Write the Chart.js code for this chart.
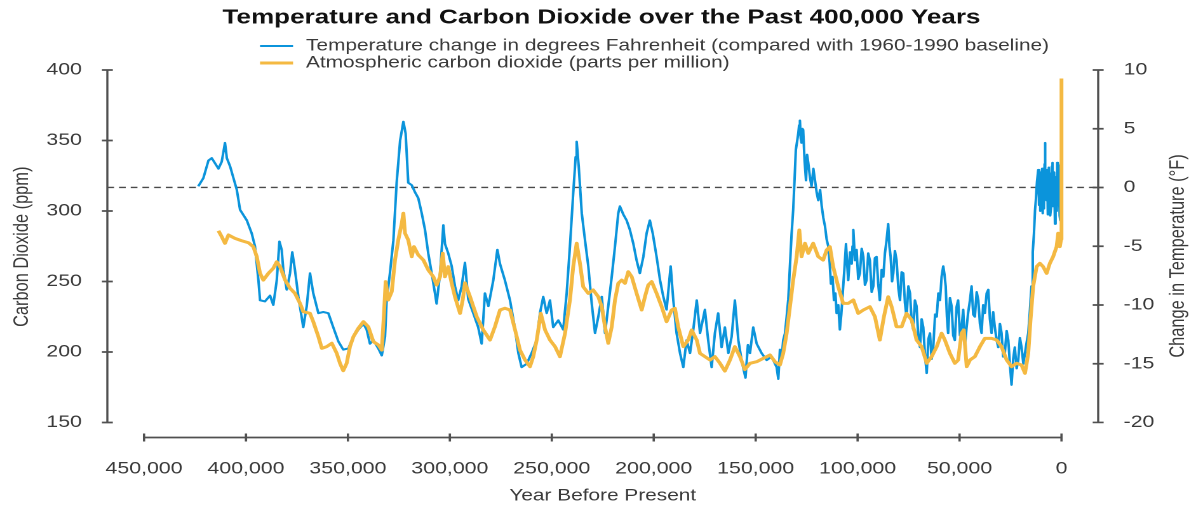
<!DOCTYPE html>
<html>
<head>
<meta charset="utf-8">
<title>Temperature and Carbon Dioxide over the Past 400,000 Years</title>
<script src="https://cdn.jsdelivr.net/npm/chart.js@4.4.1/dist/chart.umd.min.js"></script>
<style>
  html, body { margin: 0; padding: 0; background: #fff; overflow: hidden; }
  /* the figure is laid out on a narrower canvas and widened horizontally */
  #wrap { width: 947px; height: 508px; transform: scaleX(1.2703); transform-origin: 0 0; }
</style>
</head>
<body>
<div id="wrap"><canvas id="c" width="947" height="508"></canvas></div>
<script>
// ---- data: years before present and values ----
const tempYears = [
  423400,420900,418400,416800,413500,411900,410300,409400,407800,404500,402900,399600,397200,395600,393900,393100,
  390700,388200,386600,384900,383600,382500,381700,380000,378400,377300,376000,374300,371900,370200,368600,367000,
  364500,362100,359600,357200,354700,352300,349800,347300,344900,342400,340800,339200,337500,335100,333400,331800,
  331000,329400,327700,326100,324400,322800,321700,320400,318700,317100,315500,313800,312200,310600,308900,307300,
  306500,304800,303200,302400,300800,299100,297500,295900,294200,292600,291000,288500,286100,284400,282800,281100,
  278700,276700,275400,273000,270500,268000,266400,264800,262300,259900,257400,255800,254200,252500,250900,249300,
  246800,244400,242700,241100,239500,238300,237800,236800,235300,233700,232100,230400,228800,227200,225500,223900,
  222300,220600,219000,217400,216600,214900,213300,211700,210000,208400,206800,205100,203500,201900,200500,198600,
  196900,195300,193700,191700,190400,188800,187100,185500,183900,182200,180600,178900,177300,174900,173300,171600,
  170000,168400,166700,165100,163400,161800,160200,158500,156900,155000,153800,152800,151200,149500,147100,144600,
  142200,139700,138900,
  138100,137300,136500,135600,134800,134000,133200,132400,131600,130900,130300,129700,129100,128700,128300,127900,
  127500,127100,126700,126000,125300,124800,124200,123400,122600,121700,120900,120100,119300,118400,117600,116800,
  116000,115200,114400,113700,113100,112300,111600,110900,110300,109500,108700,108000,107300,106500,105700,105100,
  104600,103700,102900,102500,102100,101300,100500,99700,98900,98000,97200,96400,95600,94800,94000,93100,
  92300,91500,90700,89900,89100,88200,87400,86600,85800,85000,84400,83800,83100,82500,81700,80900,
  80000,79200,78400,77600,76800,76000,75100,74300,73500,72700,71900,71100,70200,69400,68600,67800,
  66900,66100,65300,64500,63700,62900,62000,61200,60400,59600,58800,58000,57400,56800,56200,55600,
  54700,53900,53100,52300,51500,50700,49800,49000,48200,47400,46600,45800,44900,44100,43300,42500,
  41600,40800,40000,39200,38400,37600,36700,35900,35100,34300,33500,32700,31800,31000,30200,29400,
  28600,27800,26900,26100,25300,24500,23700,22900,22000,21200,20400,19600,18700,17900,17100,16300,
  15500,14700,14100,13500,13000,12600,12000,11400,11000,10700,10400,10100,9800,9500,9200,9000,
  8600,8300,8100,7900,7600,7300,7000,6700,6500,6200,5900,5700,5400,5000,4700,4400,
  4100,3800,3500,3200,2900,2600,2300,2100,1800,1600,1400,1100,900,700,500,300,
  100
];
const tempValues = [
  0.1,0.8,2.3,2.5,1.6,2.2,3.8,2.5,1.8,-0.2,-1.9,-2.8,-3.9,-5.0,-7.9,-9.6,
  -9.7,-9.2,-10.0,-7.9,-4.6,-5.3,-7.0,-8.7,-7.3,-5.5,-7.0,-9.3,-11.9,-10.1,-7.3,-9.0,
  -10.7,-10.6,-10.7,-11.9,-13.1,-13.8,-13.7,-12.7,-12.1,-11.6,-12.1,-13.3,-13.0,-13.7,-14.3,-12.7,
  -9.6,-7.3,-4.5,0.4,4.0,5.6,4.6,0.4,0.2,-0.4,-0.9,-2.2,-3.6,-5.6,-7.3,-9.0,
  -9.9,-7.3,-3.2,-4.8,-5.6,-6.7,-8.4,-9.6,-8.4,-6.4,-9.5,-10.7,-11.9,-13.3,-9.0,-10.1,
  -7.9,-5.3,-6.5,-7.9,-9.6,-12.1,-14.1,-15.3,-15.0,-14.1,-13.0,-10.7,-9.3,-10.7,-9.6,-11.9,
  -11.3,-12.1,-9.0,-5.0,-0.5,2.6,3.9,1.8,-2.2,-4.5,-6.7,-9.9,-12.4,-11.0,-9.3,-12.4,
  -10.1,-7.6,-5.0,-2.2,-1.6,-2.3,-2.8,-3.6,-4.8,-6.2,-7.3,-5.9,-3.9,-2.8,-3.9,-5.9,
  -7.9,-9.3,-10.4,-6.7,-9.6,-12.4,-14.1,-15.3,-13.0,-14.1,-12.1,-9.6,-12.4,-10.4,-13.0,-15.3,
  -12.4,-10.7,-13.6,-11.9,-14.1,-12.7,-9.6,-13.0,-14.7,-16.2,-13.4,-14.1,-11.9,-13.3,-14.1,-14.7,
  -14.4,-15.3,-16.3,
  -13.8,-14.6,-13.0,-12.4,-11.0,-9.5,-6.7,-4.0,-1.9,0.8,3.2,3.9,4.6,5.3,5.7,4.2,
  3.8,5.0,4.9,2.2,0.6,2.8,2.1,0.9,0.1,1.6,0.6,-0.4,-1.1,-0.2,-1.6,-2.6,
  -3.3,-4.4,-5.0,-6.4,-8.2,-7.6,-9.6,-9.0,-10.7,-10.0,-12.1,-10.8,-9.0,-7.0,-4.8,-6.6,
  -7.9,-5.5,-6.5,-5.0,-3.6,-6.2,-5.3,-7.8,-7.3,-5.2,-5.9,-8.3,-7.9,-5.6,-6.2,-8.9,
  -8.4,-6.0,-5.9,-8.2,-9.6,-7.0,-7.6,-5.6,-4.5,-3.1,-5.0,-5.9,-8.0,-7.3,-5.4,-6.2,
  -8.6,-9.6,-7.2,-7.3,-9.8,-11.0,-8.4,-9.0,-11.4,-12.1,-9.6,-10.1,-12.8,-13.6,-11.2,-11.9,
  -14.4,-15.8,-12.9,-12.4,-14.6,-13.6,-10.8,-11.0,-9.0,-9.6,-7.6,-6.7,-7.4,-8.4,-11.0,-12.4,
  -9.4,-10.1,-12.6,-13.0,-10.2,-9.6,-12.6,-11.9,-10.4,-13.6,-12.0,-10.7,-9.6,-8.4,-10.8,-11.0,
  -8.9,-9.6,-11.6,-12.4,-10.0,-10.7,-9.0,-8.7,-11.2,-12.4,-10.6,-11.9,-13.0,-13.6,-11.6,-12.4,
  -14.4,-14.1,-12.2,-13.0,-15.0,-16.8,-14.6,-13.6,-15.4,-14.7,-12.8,-13.6,-15.0,-14.1,-13.2,-12.4,
  -10.5,-8.4,-5.5,-3.9,-2.0,-1.1,0.5,1.5,-1.5,1.0,-2.0,1.3,-1.1,1.6,-2.2,0.8,
  -1.8,2.0,3.8,-0.5,1.4,-1.1,1.5,-2.3,0.5,1.7,-1.9,1.2,-2.4,-1.5,1.8,2.1,
  -1.6,-0.8,1.3,-3.1,0.6,0.9,-2.0,2.1,-1.0,-1.5,1.8,0.4,-2.4,1.9,-2.8,-0.5,
  1.0
];
const co2Years = [
  413500,411900,410300,408600,405400,402100,398800,396400,394700,393100,391500,389000,386600,384900,383300,380800,
  378400,376000,373500,371900,368600,367000,364500,362800,360400,357900,355500,353900,352300,350600,349000,347300,
  344900,342400,340000,337500,335100,333400,332300,331500,330200,328500,326900,325300,323600,322800,322000,320400,
  318700,317600,315500,313000,310600,308100,306500,304800,303500,302400,300800,299100,297500,295000,293700,292600,
  290100,286800,283600,280300,277900,275400,273000,270500,268000,265600,263100,260700,259100,257400,255400,253300,
  250900,248400,246000,243500,241100,239500,237800,236200,234600,232100,229700,227200,225500,223900,222300,220600,
  219000,217400,215700,214100,212500,210800,208400,205900,204300,202700,201000,198600,196100,193700,191200,189600,
  188000,185500,183100,181400,178900,177300,174900,172400,170000,167500,165100,162600,160200,157700,155300,152800,
  149500,146300,143000,140500,138100,136500,134800,133200,131600,129900,128600,127500,125800,124200,121800,119300,
  116900,115200,113600,112000,109500,107100,104600,102100,99700,97200,94000,91500,89100,87100,85000,83300,
  80900,78400,76000,73500,71100,68600,66100,63700,61200,58800,57200,54700,52300,50700,49000,47900,
  46500,44900,42500,40000,37600,34300,31800,29400,26900,24500,22000,19600,17900,16300,15200,13900,
  12200,10600,9000,7300,5700,4100,2400,1600,800,200,0
];
const co2Values = [
  286.0,281.8,277.1,283.0,280.6,278.9,277.5,274.7,267.6,255.8,251.0,255.8,259.4,264.0,260.5,251.0,
  245.2,241.6,234.5,228.6,227.4,221.5,210.9,202.6,203.8,206.2,199.1,192.0,186.7,192.0,203.8,210.9,
  216.8,221.5,217.9,207.3,205.0,201.4,227.4,249.9,236.9,242.8,265.2,279.4,291.3,298.4,284.2,279.4,
  267.6,274.7,268.8,265.2,258.2,253.4,247.5,253.4,270.0,253.4,260.5,248.7,239.2,227.4,236.9,249.0,
  239.2,225.0,215.6,208.5,217.9,229.8,231.0,229.8,215.6,201.4,194.3,189.6,196.7,208.5,227.4,215.6,
  208.5,203.8,196.7,213.3,236.9,260.5,277.1,262.9,246.3,241.6,244.0,239.2,232.1,217.9,206.2,217.9,
  236.9,248.7,251.0,248.7,256.9,253.4,241.6,229.8,239.2,247.5,249.9,241.6,232.1,221.5,229.8,231.0,
  217.9,203.8,208.5,215.6,208.5,199.0,196.7,194.3,196.7,192.0,186.5,194.3,203.8,196.7,187.5,192.0,
  193.1,195.5,197.9,193.1,190.8,199.0,213.3,232.1,251.0,267.6,286.5,267.6,277.1,270.0,277.1,267.6,
  265.2,272.3,274.7,260.5,246.3,234.5,234.5,236.9,227.4,229.8,232.1,225.0,208.5,225.0,239.2,232.1,
  217.9,217.9,227.4,222.7,208.5,203.8,192.0,196.7,203.8,213.3,208.5,199.0,192.0,194.3,213.3,215.6,
  189.6,194.3,196.7,203.8,209.7,209.7,208.5,203.8,194.3,189.6,192.0,190.8,184.9,199.0,222.7,246.3,
  260.5,262.9,260.5,255.8,262.9,267.6,274.7,284.2,274.7,280.0,394.0
];

// ---- axis ticks ----
const xTicks = [450000, 400000, 350000, 300000, 250000, 200000, 150000, 100000, 50000, 0];
const co2Ticks = [150, 200, 250, 300, 350, 400];
const tempTicks = [-20, -15, -10, -5, 0, 5, 10];

const BLUE = '#0b94db';
const ORANGE = '#f4b942';
const TXT = '#3a3a3a';
const AXIS = '#505050';
const FONT = '"Liberation Sans", Arial, Helvetica, sans-serif';

Chart.defaults.font.family = FONT;

const toPoints = (xs, ys) => xs.map((x, i) => ({ x: x, y: ys[i] }));

// axis lines, tick marks and the 0 °F reference line
const framePlugin = {
  id: 'frame',
  beforeDatasetsDraw(chart) {
    const { ctx, chartArea: a, scales } = chart;
    const sx = scales.x, sl = scales.y, sr = scales.y1;
    ctx.save();
    const y0 = sr.getPixelForValue(0);
    ctx.strokeStyle = '#4a4a4a';
    ctx.lineWidth = 1.4;
    ctx.setLineDash([5.3, 3.9]);
    ctx.beginPath();
    ctx.moveTo(a.left, y0);
    ctx.lineTo(a.right, y0);
    ctx.stroke();
    ctx.setLineDash([]);

    ctx.strokeStyle = AXIS;
    ctx.lineWidth = 1.7;
    const half = 4.3;
    // left axis
    ctx.beginPath();
    ctx.moveTo(a.left, sl.getPixelForValue(co2Ticks[0]));
    ctx.lineTo(a.left, sl.getPixelForValue(co2Ticks[co2Ticks.length - 1]));
    co2Ticks.forEach(v => {
      const p = sl.getPixelForValue(v);
      ctx.moveTo(a.left - half, p);
      ctx.lineTo(a.left + half, p);
    });
    // right axis
    ctx.moveTo(a.right, sr.getPixelForValue(tempTicks[0]));
    ctx.lineTo(a.right, sr.getPixelForValue(tempTicks[tempTicks.length - 1]));
    tempTicks.forEach(v => {
      const p = sr.getPixelForValue(v);
      ctx.moveTo(a.right - half, p);
      ctx.lineTo(a.right + half, p);
    });
    ctx.stroke();
    // bottom axis
    ctx.lineWidth = 1.8;
    ctx.beginPath();
    ctx.moveTo(sx.getPixelForValue(xTicks[0]), a.bottom);
    ctx.lineTo(sx.getPixelForValue(xTicks[xTicks.length - 1]), a.bottom);
    xTicks.forEach(v => {
      const p = sx.getPixelForValue(v);
      ctx.moveTo(p, a.bottom - 4);
      ctx.lineTo(p, a.bottom + 4);
    });
    ctx.stroke();
    ctx.restore();
  },
  afterDraw(chart) {
    const { ctx } = chart;
    ctx.save();
    // legend
    const rows = [46, 63];
    ctx.font = '16.4px ' + FONT;
    ctx.textBaseline = 'middle';
    ctx.textAlign = 'left';
    chart.data.datasets.forEach((d, i) => {
      ctx.strokeStyle = d.borderColor;
      ctx.lineWidth = d.borderWidth;
      ctx.beginPath();
      ctx.moveTo(204.7, rows[i]);
      ctx.lineTo(230.7, rows[i]);
      ctx.stroke();
      ctx.fillStyle = TXT;
      ctx.fillText(d.label, 240.9, rows[i]);
    });
    // right axis title, reading bottom to top
    ctx.translate(927.3, 256);
    ctx.rotate(-Math.PI / 2);
    ctx.textAlign = 'center';
    ctx.fillStyle = TXT;
    ctx.fillText('Change in Temperature (\u00B0F)', 0, 0);
    ctx.restore();
  }
};

new Chart(document.getElementById('c'), {
  type: 'line',
  data: {
    datasets: [
      {
        label: 'Temperature change in degrees Fahrenheit (compared with 1960-1990 baseline)',
        data: toPoints(tempYears, tempValues),
        yAxisID: 'y1',
        borderColor: BLUE,
        borderWidth: 2,
        borderJoinStyle: 'round',
        pointRadius: 0,
        tension: 0,
        order: 1
      },
      {
        label: 'Atmospheric carbon dioxide (parts per million)',
        data: toPoints(co2Years, co2Values),
        yAxisID: 'y',
        borderColor: ORANGE,
        borderWidth: 3,
        borderJoinStyle: 'round',
        pointRadius: 0,
        tension: 0,
        order: 0
      }
    ]
  },
  options: {
    responsive: false,
    animation: false,
    devicePixelRatio: 2,
    layout: { padding: 0 },
    plugins: {
      legend: { display: false },
      tooltip: { enabled: false },
      title: {
        display: true,
        text: 'Temperature and Carbon Dioxide over the Past 400,000 Years',
        color: '#111',
        font: { size: 20.5, weight: 'bold', family: FONT },
        padding: { top: 5.7, bottom: 25.7 }
      }
    },
    scales: {
      x: {
        type: 'linear',
        reverse: true,
        min: -18000,
        max: 468000,
        afterBuildTicks: ax => { ax.ticks = xTicks.map(v => ({ value: v })); },
        afterFit: ax => { ax.height = 70.5; },
        grid: { display: false, drawTicks: false },
        border: { display: false },
        ticks: {
          autoSkip: false, maxRotation: 0, padding: 21.4, color: TXT,
          font: { size: 16.8 },
          callback: v => Number(v).toLocaleString('en-US')
        },
        title: {
          display: true, text: 'Year Before Present', color: TXT,
          font: { size: 16.4 }, padding: { top: 0, bottom: 2 }
        }
      },
      y: {
        type: 'linear',
        position: 'left',
        min: 139.36,
        max: 409.93,
        afterBuildTicks: ax => { ax.ticks = co2Ticks.map(v => ({ value: v })); },
        afterFit: ax => { ax.width = 84.5; },
        grid: { display: false, drawTicks: false },
        border: { display: false },
        ticks: { padding: 20, color: TXT, font: { size: 16.8 }, callback: v => String(v) },
        title: {
          display: true, text: 'Carbon Dioxide (ppm)', color: TXT,
          font: { size: 16.4 }, padding: { top: 7.5, bottom: 0 }
        }
      },
      y1: {
        type: 'linear',
        position: 'right',
        min: -21.28,
        max: 11.19,
        afterBuildTicks: ax => { ax.ticks = tempTicks.map(v => ({ value: v })); },
        afterFit: ax => { ax.width = 82.5; },
        grid: { display: false, drawTicks: false },
        border: { display: false },
        ticks: { padding: 20, color: TXT, font: { size: 16.8 }, callback: v => String(v) }
      }
    }
  },
  plugins: [framePlugin]
});
</script>
</body>
</html>
